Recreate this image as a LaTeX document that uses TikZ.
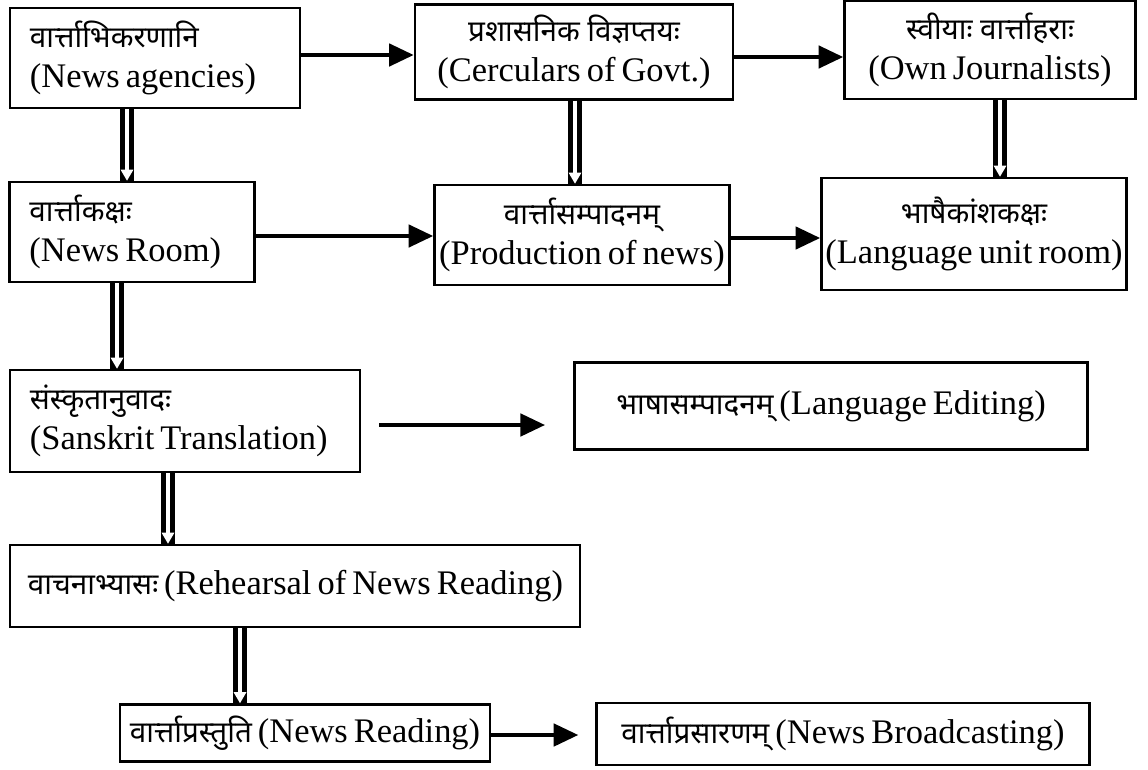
\documentclass[tikz,border=0pt]{standalone}
\usepackage{fontspec}
\setmainfont[WordSpace=0.7]{Liberation Serif}
\newfontfamily\devfont[Script=Devanagari,Scale=0.86]{Noto Sans}
\usetikzlibrary{arrows.meta}
\usetikzlibrary{calc}
\newcommand{\dv}[1]{{\devfont #1}}

\begin{document}
\begin{tikzpicture}[x=0.025cm, y=-0.025cm]
				\tikzstyle{boxnode}=[draw=black, line width=1.6pt, fill=white, text=black, font=\fontsize{24.5}{28.5}\selectfont]
				\tikzstyle{leftbox}=[boxnode, align=flush left, inner xsep=0.5cm]
				\tikzstyle{midbox}=[boxnode, align=center, inner xsep=0.1cm]
				\tikzstyle{onearrow}=[line width=0.12cm, -{Triangle[length=0.62cm,width=0.55cm]}]
				\tikzstyle{dblbar}=[line width=0.33cm, black]
				\tikzstyle{dbltip}=[line width=2.2pt, white, -{Triangle[length=0.28cm,width=0.3cm]}]
				
				\useasboundingbox (0,0) rectangle (1148,769);
				
				% first row
				\node (ag) at (155,58) [leftbox, text width=6.25cm, minimum height=2.5cm] {\dv{वार्त्ताभिकरणानि}\\(News agencies)};
				\node (circ) at (574,52) [midbox, minimum width=7.95cm, minimum height=2.375cm] {\dv{प्रशासनिक विज्ञप्तयः}\\(Cerculars of Govt.)};
				\node (jour) at (990,50) [midbox, minimum width=7.275cm, minimum height=2.45cm] {\dv{स्वीयाः वार्त्ताहराः}\\(Own Journalists)};
				
				% second row
				\node (room) at (132,232) [leftbox, text width=5.125cm, minimum height=2.5cm] {\dv{वार्त्ताकक्षः}\\(News Room)};
				\node (prod) at (582,235) [midbox, minimum width=7.375cm, minimum height=2.5cm] {\dv{वार्त्तासम्पादनम्}\\(Production of news)};
				\node (lang) at (974,234) [midbox, minimum width=7.55cm, minimum height=2.8cm] {\dv{भाषैकांशकक्षः}\\(Language unit room)};
				
				% third row
				\node (trans) at (185,421) [leftbox, text width=7.75cm, minimum height=2.55cm] {\dv{संस्कृतानुवादः}\\(Sanskrit Translation)};
				\node (edit) at (831,406) [midbox, minimum width=12.825cm, minimum height=2.175cm] {\dv{भाषासम्पादनम्} (Language Editing)};
				
				% last rows
				\node (reh) at (295,586) [leftbox, inner xsep=0.45cm, text width=13.35cm, minimum height=2.05cm] {\mbox{\dv{वाचनाभ्यासः} (Rehearsal of News Reading)}};
				\node (read) at (305,733) [midbox, minimum width=9.25cm, minimum height=1.425cm] {\dv{वार्त्ताप्रस्तुति} (News Reading)};
				\node (bcast) at (843,734) [midbox, minimum width=12.325cm, minimum height=1.55cm] {\dv{वार्त्ताप्रसारणम्} (News Broadcasting)};
				
				% single arrows
				\draw [onearrow] (ag.east |- 0,55) -- (circ.west |- 0,55);
				\draw [onearrow] (circ.east |- 0,57) -- (jour.west |- 0,57);
				\draw [onearrow] (room.east |- 0,236) -- (prod.west |- 0,236);
				\draw [onearrow] (prod.east |- 0,238) -- (lang.west |- 0,238);
				\draw [onearrow, shorten <=13, shorten >=20] (trans.east |- 0,425) -- (edit.west |- 0,425);
				\draw [onearrow, shorten >=12] (read.east |- 0,735) -- (bcast.west |- 0,735);
				
				% double arrows
				\foreach \a/\b/\x in {ag/room/127, circ/prod/575, jour/lang/1000, room/trans/117, trans/reh/168, reh/read/240}
				{
					\draw [dblbar] (\a.south -| \x,0) -- (\b.north -| \x,0);
					\draw [dbltip] (\a.south -| \x,0) -- (\b.north -| \x,0);
				}
\end{tikzpicture}
\end{document}
